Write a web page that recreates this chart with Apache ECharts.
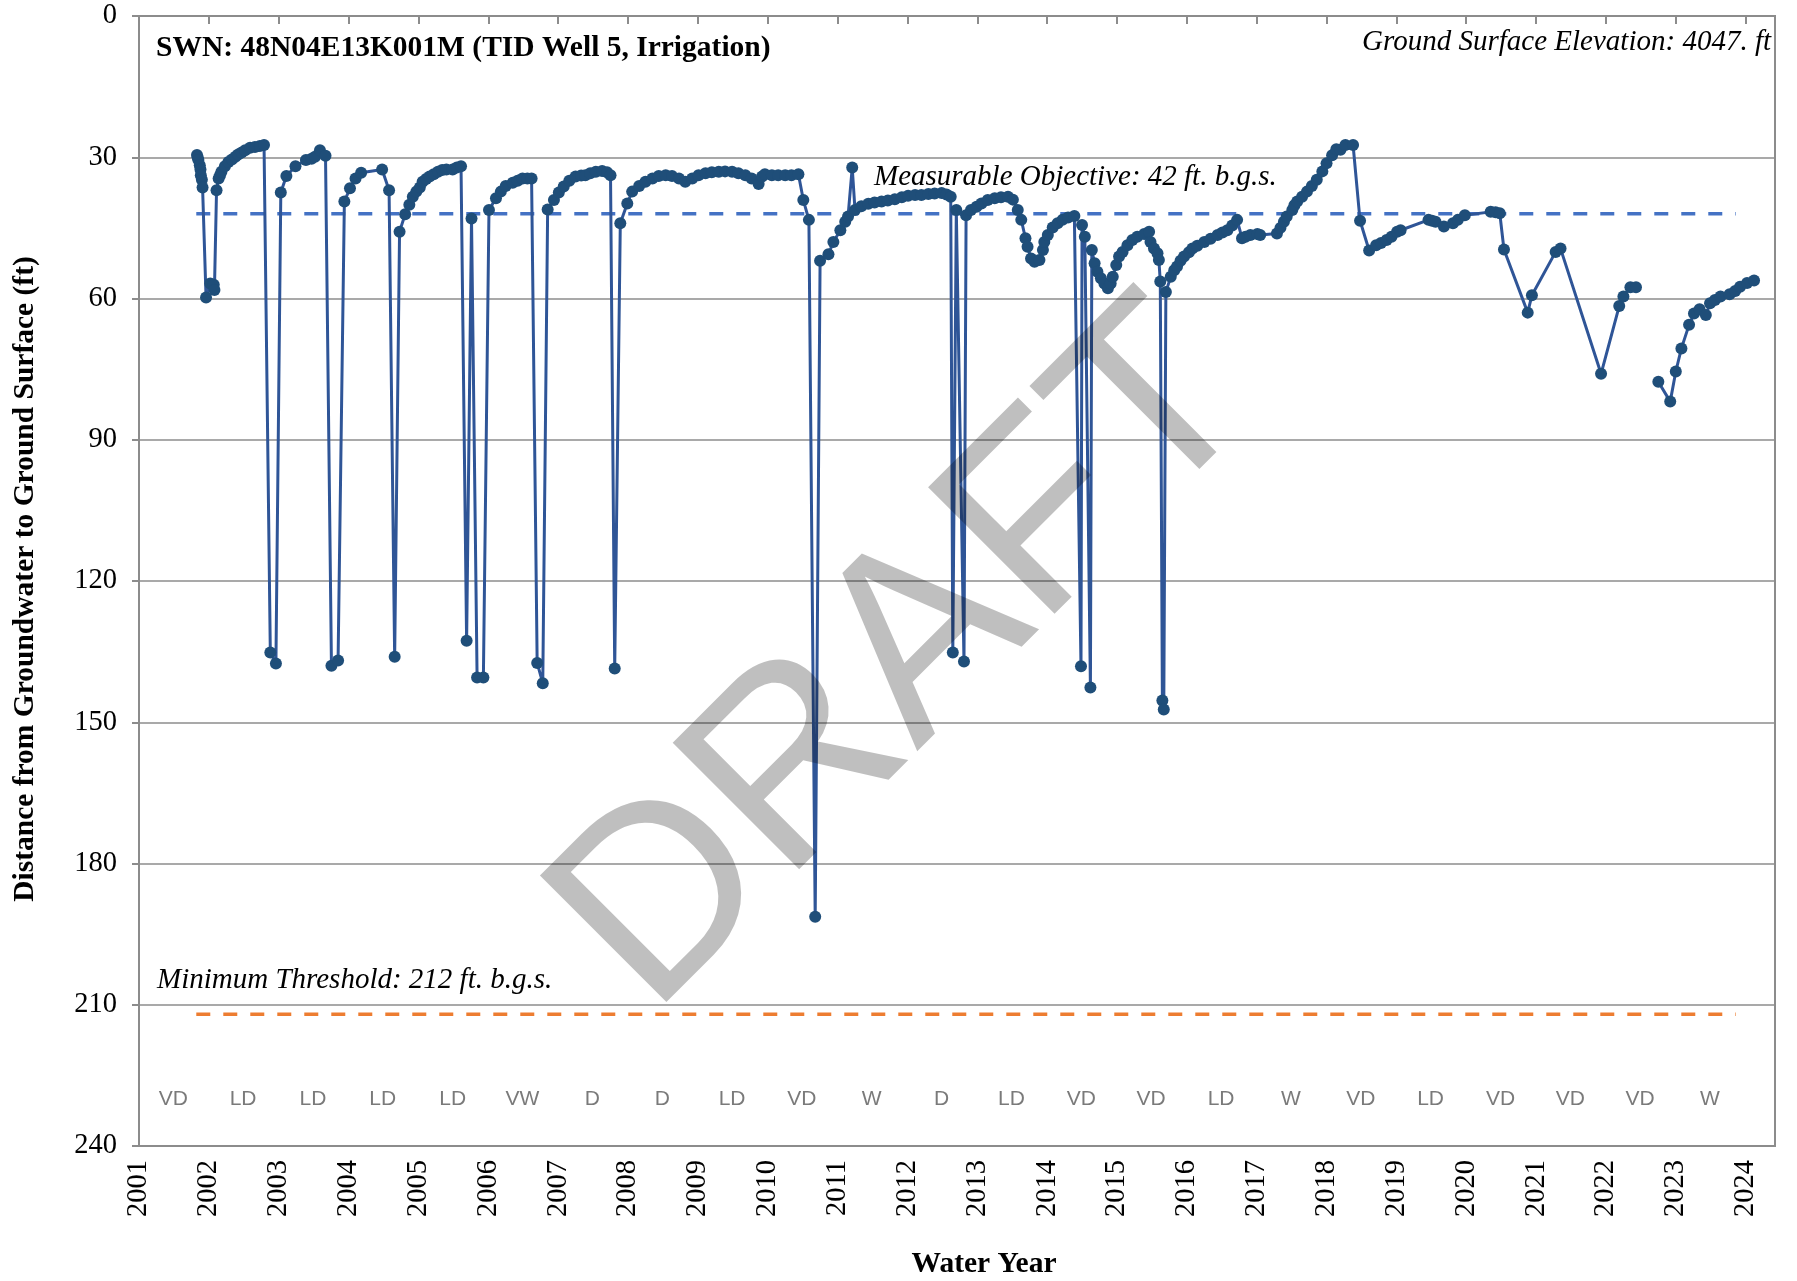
<!DOCTYPE html>
<html lang="en">
<head>
    <meta charset="UTF-8">
    <title>TID Well 5 Hydrograph</title>
    <script src="https://cdn.jsdelivr.net/npm/echarts/dist/echarts.min.js"></script>
    <style>
        body { margin: 0; background: #fff; }
        #WellChart { width: 1797px; height: 1281px; }
    </style>
</head>
<body>
    <div id="WellChart"></div>

    <script>
        // measured depth to water (decimal water year, ft below ground surface); null = gap in record
        var obsYear = [
            2001.83, 2001.84, 2001.85, 2001.87, 2001.88, 2001.885, 2001.90, 2001.91, 2001.96, 2002.02,
            2002.07, 2002.08, 2002.11, 2002.14, 2002.16, 2002.18, 2002.23, 2002.28, 2002.33, 2002.38,
            2002.42, 2002.47, 2002.52, 2002.59, 2002.66, 2002.73, 2002.79, 2002.88, 2002.96,
            2003.03, 2003.11, 2003.24, 2003.39, 2003.47, 2003.52, 2003.59, 2003.67, 2003.755, 2003.85,
            2003.94, 2004.02, 2004.10, 2004.18, 2004.48, 2004.58, 2004.66,
            2004.73, 2004.81, 2004.87, 2004.92, 2004.97, 2005.02, 2005.06, 2005.11, 2005.16, 2005.22,
            2005.28, 2005.34, 2005.40, 2005.49, 2005.55, 2005.61, 2005.69, 2005.76, 2005.84, 2005.93,
            2006.01, 2006.11, 2006.18, 2006.25, 2006.35, 2006.42, 2006.49, 2006.56, 2006.62, 2006.70, 2006.78,
            2006.85, 2006.94, 2007.01, 2007.08, 2007.16, 2007.25, 2007.33, 2007.39, 2007.46, 2007.54,
            2007.63, 2007.70, 2007.75, 2007.81,
            2007.89, 2007.99, 2008.06, 2008.16, 2008.25, 2008.35, 2008.44, 2008.54, 2008.63, 2008.73,
            2008.82, 2008.92, 2009.01, 2009.11, 2009.20, 2009.30, 2009.39, 2009.49, 2009.58, 2009.68,
            2009.77, 2009.87, 2009.92, 2009.96, 2010.06, 2010.15, 2010.25, 2010.34, 2010.44, 2010.51,
            2010.59, 2010.68,
            2010.75, 2010.87, 2010.94, 2011.04, 2011.11, 2011.15, 2011.21, 2011.25, 2011.34, 2011.44,
            2011.53, 2011.63, 2011.72, 2011.82, 2011.92, 2012.01, 2012.11, 2012.20, 2012.30, 2012.39,
            2012.49, 2012.56, 2012.62, 2012.65, 2012.70, 2012.81,
            2012.84, 2012.91, 2012.99, 2013.06, 2013.15, 2013.25, 2013.34, 2013.44, 2013.51, 2013.58,
            2013.63, 2013.69, 2013.72, 2013.77, 2013.82, 2013.89, 2013.94, 2013.96, 2014.01, 2014.08,
            2014.15, 2014.22, 2014.30, 2014.39, 2014.485, 2014.50, 2014.54, 2014.62,
            2014.64, 2014.68, 2014.72, 2014.77, 2014.82, 2014.87, 2014.91, 2014.94, 2014.99, 2015.03,
            2015.08, 2015.15, 2015.22, 2015.29, 2015.39, 2015.46, 2015.48, 2015.53, 2015.58, 2015.60,
            2015.62, 2015.65, 2015.67,
            2015.70, 2015.77, 2015.82, 2015.86, 2015.91, 2015.96, 2016.03, 2016.08, 2016.15, 2016.25,
            2016.34, 2016.44, 2016.51, 2016.58, 2016.65, 2016.72, 2016.79, 2016.84, 2016.91, 2017.01,
            2017.05, 2017.29, 2017.34, 2017.39, 2017.43, 2017.51, 2017.54, 2017.58, 2017.65, 2017.72,
            2017.79, 2017.86, 2017.94, 2018.00, 2018.08, 2018.14, 2018.20, 2018.27, 2018.38,
            2018.48, 2018.61, 2018.71, 2018.78, 2018.86, 2018.93, 2019.01, 2019.06, 2019.46, 2019.51,
            2019.56, 2019.68, 2019.81, 2019.88, 2019.98, 2020.35, 2020.42, 2020.48, 2020.54, 2020.88,
            2020.94, 2021.28, 2021.35, 2021.93, 2022.19, 2022.25, 2022.35, 2022.43, 2022.60,
            2022.75, 2022.92, 2023.00, 2023.08, 2023.19, 2023.26, 2023.34, 2023.43, 2023.49, 2023.56,
            2023.64, 2023.77, 2023.85, 2023.92, 2024.02, 2024.12
        ];
        var depthFt = [
            29.5, 30.0, 30.6, 31.7, 32.6, 33.8, 34.8, 36.4, 59.8, 56.8,
            57.1, 58.2, 37.0, 34.5, 33.8, 33.1, 31.9, 31.0, 30.5, 29.9,
            29.4, 29.0, 28.5, 28.0, 27.8, 27.6, 27.4, 135.2, 137.5,
            37.5, 34.0, 31.9, 30.6, 30.3, 29.9, 28.5, 29.7, 138.0, 136.9,
            39.4, 36.6, 34.5, 33.3, 32.6, 37.0, 136.1,
            45.8, 42.1, 40.1, 38.4, 37.3, 36.4, 35.2, 34.6, 34.1, 33.6,
            33.1, 32.7, 32.6, 32.6, 32.2, 31.9, 132.7, 43.0, 140.5, 140.5,
            41.2, 38.7, 37.3, 36.1, 35.4, 35.0, 34.5, 34.5, 34.5, 137.4, 141.7,
            41.1, 39.1, 37.5, 36.2, 35.0, 34.1, 33.9, 33.8, 33.4, 33.1,
            32.9, 33.2, 33.8, 138.6,
            44.0, 39.8, 37.3, 36.1, 35.2, 34.5, 34.0, 33.8, 34.0, 34.5,
            35.2, 34.5, 33.8, 33.4, 33.2, 33.1, 33.0, 33.1, 33.4, 33.8,
            34.5, 35.7, 34.1, 33.6, 33.8, 33.8, 33.8, 33.8, 33.6, 39.1,
            43.3, 191.3,
            52.0, 50.6, 48.0, 45.5, 43.7, 42.6, 32.2, 41.2, 40.4, 39.9,
            39.6, 39.4, 39.2, 38.9, 38.5, 38.2, 38.0, 38.0, 37.8, 37.7,
            37.6, 37.9, 38.4, 135.2, 41.2, 137.1,
            42.3, 41.2, 40.5, 39.8, 39.1, 38.7, 38.5, 38.4, 39.0, 41.2,
            43.3, 47.2, 49.0, 51.5, 52.2, 51.8, 49.7, 48.0, 46.5, 44.9,
            44.0, 43.3, 42.8, 42.5, 138.1, 44.4, 46.9, 142.6,
            49.7, 52.5, 54.3, 55.7, 56.8, 57.8, 56.8, 55.4, 52.9, 51.1,
            50.1, 48.7, 47.6, 46.9, 46.3, 45.8, 48.0, 49.4, 50.4, 51.8,
            56.4, 145.4, 147.3,
            58.6, 55.4, 54.0, 53.2, 52.0, 51.1, 50.2, 49.4, 48.8, 48.0,
            47.3, 46.5, 46.0, 45.5, 44.5, 43.3, 47.2, 46.9, 46.5, 46.3,
            46.5, 46.2, 45.0, 43.7, 42.6, 41.2, 40.2, 39.4, 38.4, 37.3,
            36.1, 34.8, 33.0, 31.3, 29.6, 28.3, 28.4, 27.4, 27.4,
            43.5, 49.8, 48.7, 48.2, 47.6, 46.9, 45.8, 45.5, 43.3, 43.5,
            43.7, 44.7, 44.0, 43.3, 42.3, 41.6, 41.7, 41.9, 49.6, 63.0,
            59.3, 50.1, 49.4, 76.0, 61.6, 59.6, 57.6, 57.6, null,
            77.7, 81.9, 75.5, 70.6, 65.6, 63.2, 62.3, 63.5, 61.0, 60.3,
            59.6, 59.1, 58.4, 57.5, 56.7, 56.2
        ];

        // sustainable management criteria (ft b.g.s.) and the span they are drawn over
        var measurableObjective = 42;
        var minimumThreshold = 212;
        var criteriaSpan = [2001.82, 2023.86];

        // water year types, one per water year starting 2001
        var typeYears = [2001, 2002, 2003, 2004, 2005, 2006, 2007, 2008, 2009, 2010, 2011, 2012,
            2013, 2014, 2015, 2016, 2017, 2018, 2019, 2020, 2021, 2022, 2023];
        var typeCodes = ['VD', 'LD', 'LD', 'LD', 'LD', 'VW', 'D', 'D', 'LD', 'VD', 'W', 'D',
            'LD', 'VD', 'VD', 'LD', 'W', 'VD', 'LD', 'VD', 'VD', 'VD', 'W'];
        var typeRowDepth = 230;

        // axis ticks
        var yearTicks = [];
        for (var t = 2001; t <= 2024; t++) yearTicks.push(t);
        var depthTicks = [0, 30, 60, 90, 120, 150, 180, 210, 240];

        var serif = '"Liberation Serif", "Times New Roman", serif';
        var gridGray = '#8c8c8c';

        var wellData = [];
        for (var i = 0; i < obsYear.length; i++) {
            wellData.push([obsYear[i], depthFt[i] === null ? '-' : depthFt[i]]);
        }

        var typeData = [];
        for (var j = 0; j < typeYears.length; j++) {
            typeData.push([typeYears[j] + 0.49, typeRowDepth, typeCodes[j]]);
        }

        var wellChart = echarts.init(document.getElementById('WellChart'));

        var wellOption = {
            animation: false,
            backgroundColor: '#fff',
            grid: {
                left: 139,
                right: 22,
                top: 16,
                bottom: 135,
                show: true,
                borderColor: gridGray,
                borderWidth: 2
            },
            xAxis: {
                type: 'value',
                min: 2001,
                max: 2024.42,
                splitLine: { show: false },
                axisLine: { lineStyle: { color: gridGray, width: 2 } },
                axisTick: {
                    customValues: yearTicks,
                    length: 8,
                    lineStyle: { color: gridGray, width: 2 }
                },
                axisLabel: {
                    customValues: yearTicks,
                    rotate: 90,
                    margin: 14,
                    color: '#000',
                    fontFamily: serif,
                    fontSize: 28.5,
                    formatter: function(v) { return String(Math.round(v)); }
                }
            },
            yAxis: {
                type: 'value',
                inverse: true,
                min: depthTicks[0],
                max: depthTicks[depthTicks.length - 1],
                interval: 30,
                axisLine: { show: true, lineStyle: { color: gridGray, width: 2 } },
                axisTick: { show: true, length: 7, lineStyle: { color: gridGray, width: 2 } },
                splitLine: { lineStyle: { color: gridGray, width: 1.5 } },
                axisLabel: {
                    margin: 22,
                    color: '#000',
                    fontFamily: serif,
                    fontSize: 28.5
                }
            },
            series: [{
                name: 'Measurable Objective',
                type: 'line',
                symbol: 'none',
                z: 1,
                lineStyle: { color: '#4472C4', width: 3.5, type: [14, 13] },
                data: [[criteriaSpan[0], measurableObjective], [criteriaSpan[1], measurableObjective]]
            }, {
                name: 'Minimum Threshold',
                type: 'line',
                symbol: 'none',
                z: 1,
                lineStyle: { color: '#ED7D31', width: 3.5, type: [14, 13] },
                data: [[criteriaSpan[0], minimumThreshold], [criteriaSpan[1], minimumThreshold]]
            }, {
                name: 'Depth to Water',
                type: 'line',
                z: 3,
                connectNulls: false,
                symbol: 'circle',
                symbolSize: 12,
                showAllSymbol: true,
                lineStyle: { color: '#2F5597', width: 3 },
                itemStyle: { color: '#1F4E79' },
                data: wellData
            }, {
                name: 'Water Year Type',
                type: 'scatter',
                symbolSize: 0,
                z: 2,
                label: {
                    show: true,
                    position: 'inside',
                    formatter: function(p) { return p.value[2]; },
                    color: '#595959',
                    fontFamily: '"Liberation Sans Narrow", "Liberation Sans", sans-serif',
                    fontSize: 21
                },
                data: typeData
            }],
            graphic: [{
                type: 'text', x: 156, y: 48, z: 50,
                style: {
                    text: 'SWN: 48N04E13K001M (TID Well 5, Irrigation)',
                    font: 'bold 29.5px ' + serif, fill: '#000',
                    textAlign: 'left', textVerticalAlign: 'middle'
                }
            }, {
                type: 'text', x: 1771, y: 42, z: 50,
                style: {
                    text: 'Ground Surface Elevation: 4047. ft',
                    font: 'italic 29px ' + serif, fill: '#000',
                    textAlign: 'right', textVerticalAlign: 'middle'
                }
            }, {
                type: 'text', x: 874, y: 177, z: 50,
                style: {
                    text: 'Measurable Objective: 42 ft. b.g.s.',
                    font: 'italic 29px ' + serif, fill: '#000',
                    textAlign: 'left', textVerticalAlign: 'middle'
                }
            }, {
                type: 'text', x: 157, y: 980, z: 50,
                style: {
                    text: 'Minimum Threshold: 212 ft. b.g.s.',
                    font: 'italic 29px ' + serif, fill: '#000',
                    textAlign: 'left', textVerticalAlign: 'middle'
                }
            }, {
                type: 'text', x: 984, y: 1264, z: 50,
                style: {
                    text: 'Water Year',
                    font: 'bold 29.5px ' + serif, fill: '#000',
                    textAlign: 'center', textVerticalAlign: 'middle'
                }
            }, {
                type: 'text', x: 25, y: 579, z: 50, rotation: Math.PI / 2,
                style: {
                    text: 'Distance from Groundwater to Ground Surface (ft)',
                    font: 'bold 29.5px ' + serif, fill: '#000',
                    textAlign: 'center', textVerticalAlign: 'middle'
                }
            }, {
                // watermark sits on top of the plot, semi-transparent
                type: 'text', x: 907, y: 660, z: 100, rotation: Math.PI / 4,
                style: {
                    text: 'DRAFT',
                    font: '260px "Liberation Sans", Arial, sans-serif',
                    fill: 'rgba(0,0,0,0.25)',
                    textAlign: 'center', textVerticalAlign: 'middle'
                }
            }]
        };

        wellChart.setOption(wellOption);
    </script>
</body>
</html>
